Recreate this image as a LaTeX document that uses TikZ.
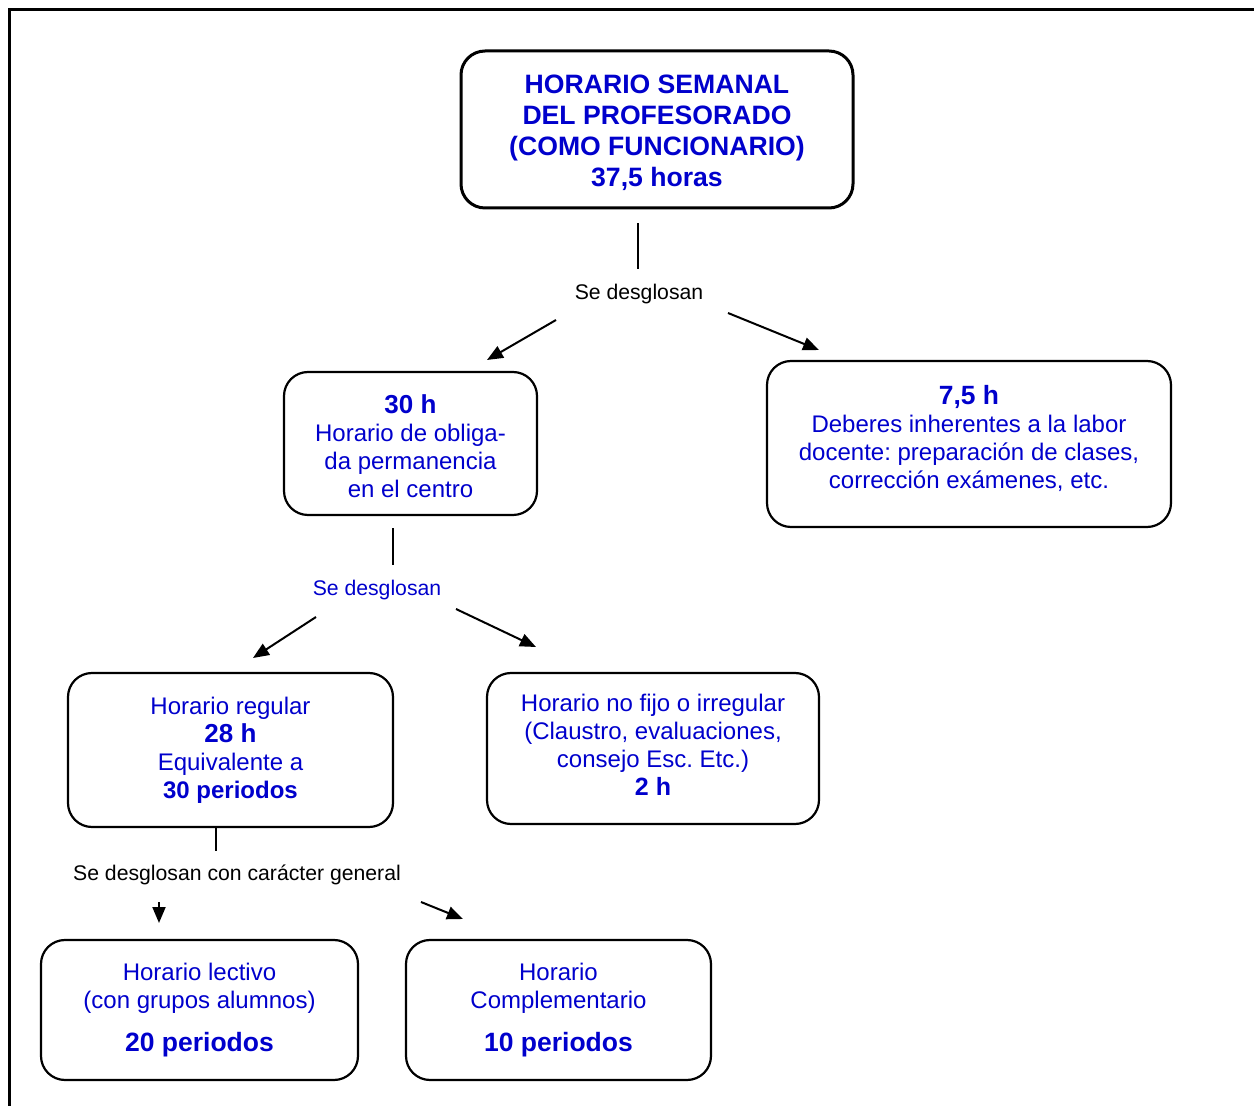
\documentclass[tikz,border=0pt]{standalone}
\usepackage{fontspec}
\setmainfont{Liberation Sans}
\usepackage{tikz}
\usetikzlibrary{arrows.meta}
\definecolor{azul}{RGB}{0,0,204}
\frenchspacing

\begin{document}
\begin{tikzpicture}[x=0.5pt,y=-0.5pt,
  caja/.style={draw, rounded corners=12pt, line width=1.1pt, align=center, text=azul,
    font=\fontsize{12}{14}\selectfont, inner sep=0pt},
  rotulo/.style={font=\fontsize{10.6}{12}\selectfont, inner sep=0pt},
  linea/.style={line width=1pt},
  flecha/.style={-{Triangle[length=8pt,width=6.5pt]}, line width=1pt}]
 \useasboundingbox (0,0) rectangle (1254,1106);
 \draw[line width=1.5pt] (9.5,1106) -- (9.5,9.5) -- (1254,9.5);

 \node[caja, line width=1.5pt, minimum width=196pt, minimum height=78.5pt,
   font=\bfseries\fontsize{13.3}{15.5}\selectfont] (total) at (657,129.5)
   {\\[-2.5pt]HORARIO SEMANAL\\DEL PROFESORADO\\(COMO FUNCIONARIO)\\37,5 horas};
 \node[rotulo] (desg1) at (639,294) {Se desglosan};
 \node[caja, minimum width=126.5pt, minimum height=71.5pt] (centro) at (410.5,443.5)
   {\\[-2pt]{\bfseries\fontsize{13}{15}\selectfont 30 h}\\Horario de obliga-\\da permanencia\\en el centro};
 \node[caja, minimum width=202pt, minimum height=83pt] (deberes) at (969,444)
   {{\bfseries\fontsize{13.2}{15}\selectfont 7,5 h}\\Deberes inherentes a la labor\\docente: preparación de clases,\\corrección exámenes, etc.\\[-7pt]};
 \node[rotulo, text=azul] (desg2) at (377,590) {Se desglosan};
 \node[caja, minimum width=162.5pt, minimum height=77pt] (regular) at (230.5,750)
   {Horario regular\\{\bfseries\fontsize{13}{15}\selectfont 28 h}\\Equivalente a\\{\bfseries 30 periodos}};
 \node[caja, minimum width=166pt, minimum height=75.5pt] (irregular) at (653,748.5)
   {Horario no fijo o irregular\\(Claustro, evaluaciones,\\consejo Esc. Etc.)\\{\bfseries\fontsize{12.5}{14}\selectfont 2 h}\\[-10pt]};
 \node[rotulo] (desg3) at (237,875) {Se desglosan con carácter general};
 \node[caja, minimum width=158.5pt, minimum height=70pt] (lectivo) at (199.5,1010)
   {Horario lectivo\\(con grupos alumnos)\\[7.5pt]{\bfseries\fontsize{13.25}{15}\selectfont 20 periodos}};
 \node[caja, minimum width=152.5pt, minimum height=70pt] (complem) at (558.5,1010)
   {Horario\\Complementario\\[7.5pt]{\bfseries\fontsize{13.25}{15}\selectfont 10 periodos}};

 \coordinate (v1) at (638,269);
 \coordinate (v2) at (393,565);
 \coordinate (v3) at (216,851);
 \coordinate (f1) at (556,320); \coordinate (p1) at (487,360);
 \coordinate (f2) at (728,313); \coordinate (p2) at (819,350);
 \coordinate (f3) at (316,617); \coordinate (p3) at (253,658);
 \coordinate (f4) at (456,609); \coordinate (p4) at (536,647);
 \coordinate (f5) at (159,902); \coordinate (p5) at (159,923);
 \coordinate (f6) at (421,902); \coordinate (p6) at (463,919);

 \draw[linea, shorten <=7pt] (total.south -| v1) -- (v1);
 \draw[linea, shorten <=6pt] (centro.south -| v2) -- (v2);
 \draw[linea] (regular.south -| v3) -- (v3);
 \draw[flecha] (f1) -- (p1);
 \draw[flecha] (f2) -- (p2);
 \draw[flecha] (f3) -- (p3);
 \draw[flecha] (f4) -- (p4);
 \draw[flecha] (f5) -- (p5);
 \draw[flecha] (f6) -- (p6);
\end{tikzpicture}
\end{document}
